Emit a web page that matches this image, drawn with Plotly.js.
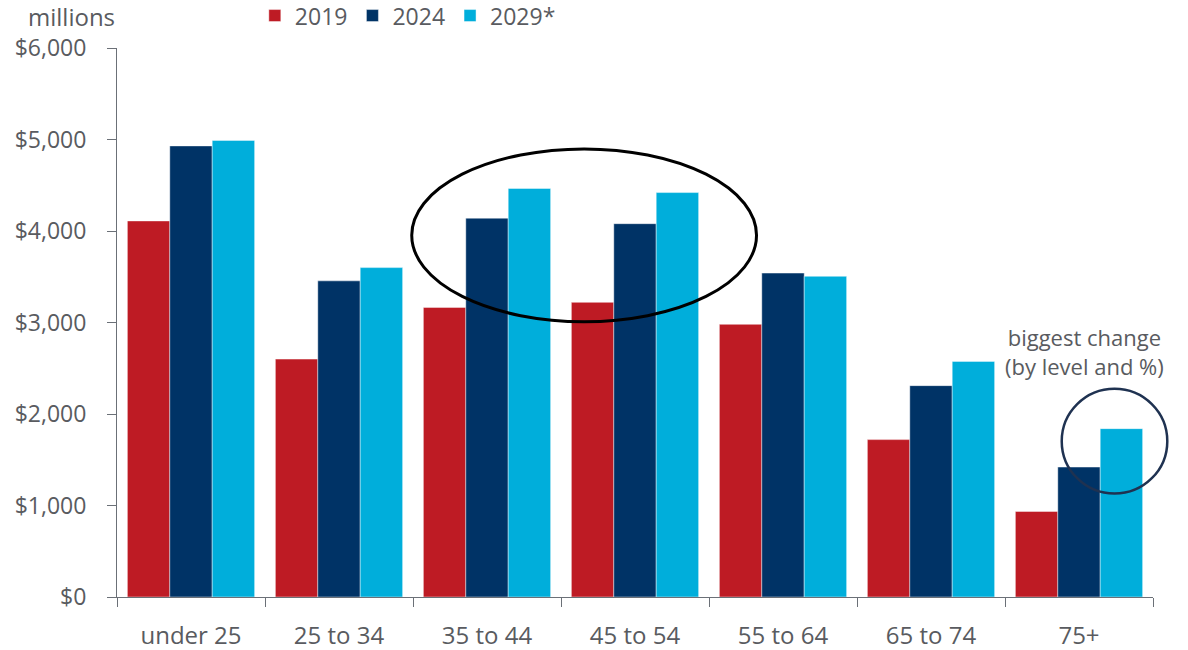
<!DOCTYPE html>
<html>
<head>
<meta charset="utf-8">
<script src="https://cdn.plot.ly/plotly-3.0.1.min.js"></script>
<style>html,body{margin:0;padding:0;background:#fff;}#chart{width:1188px;height:650px;}</style>
</head>
<body>
<div id="chart"></div>
<script>
var categories = ["under 25", "25 to 34", "35 to 44", "45 to 54", "55 to 64", "65 to 74", "75+"];
var seriesNames = ["2019", "2024", "2029*"];
var values2019 = [4110, 2600, 3165, 3220, 2980, 1720, 935];
var values2024 = [4930, 3455, 4140, 4080, 3540, 2310, 1420];
var values2029 = [4990, 3600, 4465, 4420, 3505, 2575, 1840];
var yTickValues = [0, 1000, 2000, 3000, 4000, 5000, 6000];
var yTickLabels = ["$0", "$1,000", "$2,000", "$3,000", "$4,000", "$5,000", "$6,000"];
var colors = ["#BE1B24", "#003366", "#00AEDB"];

var FONT = "Open Sans, Noto Sans, sans-serif";
var GREY = "#595B60";
var AXIS = "#6B7077";

var allValues = [values2019, values2024, values2029];
var data = allValues.map(function (vals, i) {
  return {
    type: "bar",
    name: seriesNames[i],
    x: categories,
    y: vals,
    marker: {color: colors[i], line: {color: "rgba(255,255,255,0.55)", width: 0.8}},
    hoverinfo: "x+y+name"
  };
});

var layout = {
  width: 1188,
  height: 650,
  margin: {l: 117, r: 35, t: 48, b: 52.5},
  paper_bgcolor: "#ffffff",
  plot_bgcolor: "#ffffff",
  barmode: "group",
  bargap: 0.14,
  bargroupgap: 0,
  font: {family: FONT, size: 24, color: GREY},
  showlegend: true,
  legend: {
    orientation: "h",
    xref: "container", yref: "container",
    x: 0.2145, xanchor: "left",
    y: 0.976, yanchor: "middle",
    font: {family: FONT, size: 23, color: GREY},
    bgcolor: "rgba(0,0,0,0)",
    borderwidth: 0,
    traceorder: "normal"
  },
  xaxis: {
    type: "category",
    range: [-0.5, 6.5],
    autorange: false,
    showline: true, linecolor: AXIS, linewidth: 1,
    ticks: "outside", tickson: "boundaries", ticklen: 9, tickcolor: AXIS, tickwidth: 1,
    showgrid: false, zeroline: false,
    ticklabelstandoff: 17,
    tickfont: {family: FONT, size: 24, color: GREY}
  },
  yaxis: {
    range: [0, 6000],
    autorange: false,
    showline: true, linecolor: AXIS, linewidth: 1,
    ticks: "outside", ticklen: 9, tickcolor: AXIS, tickwidth: 1,
    tickmode: "array", tickvals: yTickValues, ticktext: yTickLabels,
    showgrid: false, zeroline: false,
    ticklabelstandoff: 16,
    tickfont: {family: FONT, size: 23, color: GREY}
  },
  shapes: [
    {type: "circle", xref: "paper", yref: "paper", x0: 0.2845, x1: 0.6173, y0: 0.5014, y1: 0.8162,
     line: {color: "#000000", width: 3}, fillcolor: "rgba(0,0,0,0)", layer: "above"},
    {type: "circle", xref: "paper", yref: "paper", x0: 0.9119, x1: 1.0138, y0: 0.1884, y1: 0.3794,
     line: {color: "#1F3251", width: 2.5}, fillcolor: "rgba(0,0,0,0)", layer: "above"}
  ],
  annotations: [
    {text: "millions", xref: "paper", yref: "paper", x: -0.0444, y: 1.057,
     xanchor: "center", yanchor: "middle", showarrow: false,
     font: {family: FONT, size: 24, color: GREY}},
    {text: "biggest change<br>(by level and %)", xref: "x", yref: "y", x: 6.036, y: 2683,
     xanchor: "center", yanchor: "middle", showarrow: false, align: "center",
     font: {family: FONT, size: 22, color: GREY}}
  ]
};

Plotly.newPlot("chart", data, layout, {displayModeBar: false, staticPlot: true});
</script>
</body>
</html>
